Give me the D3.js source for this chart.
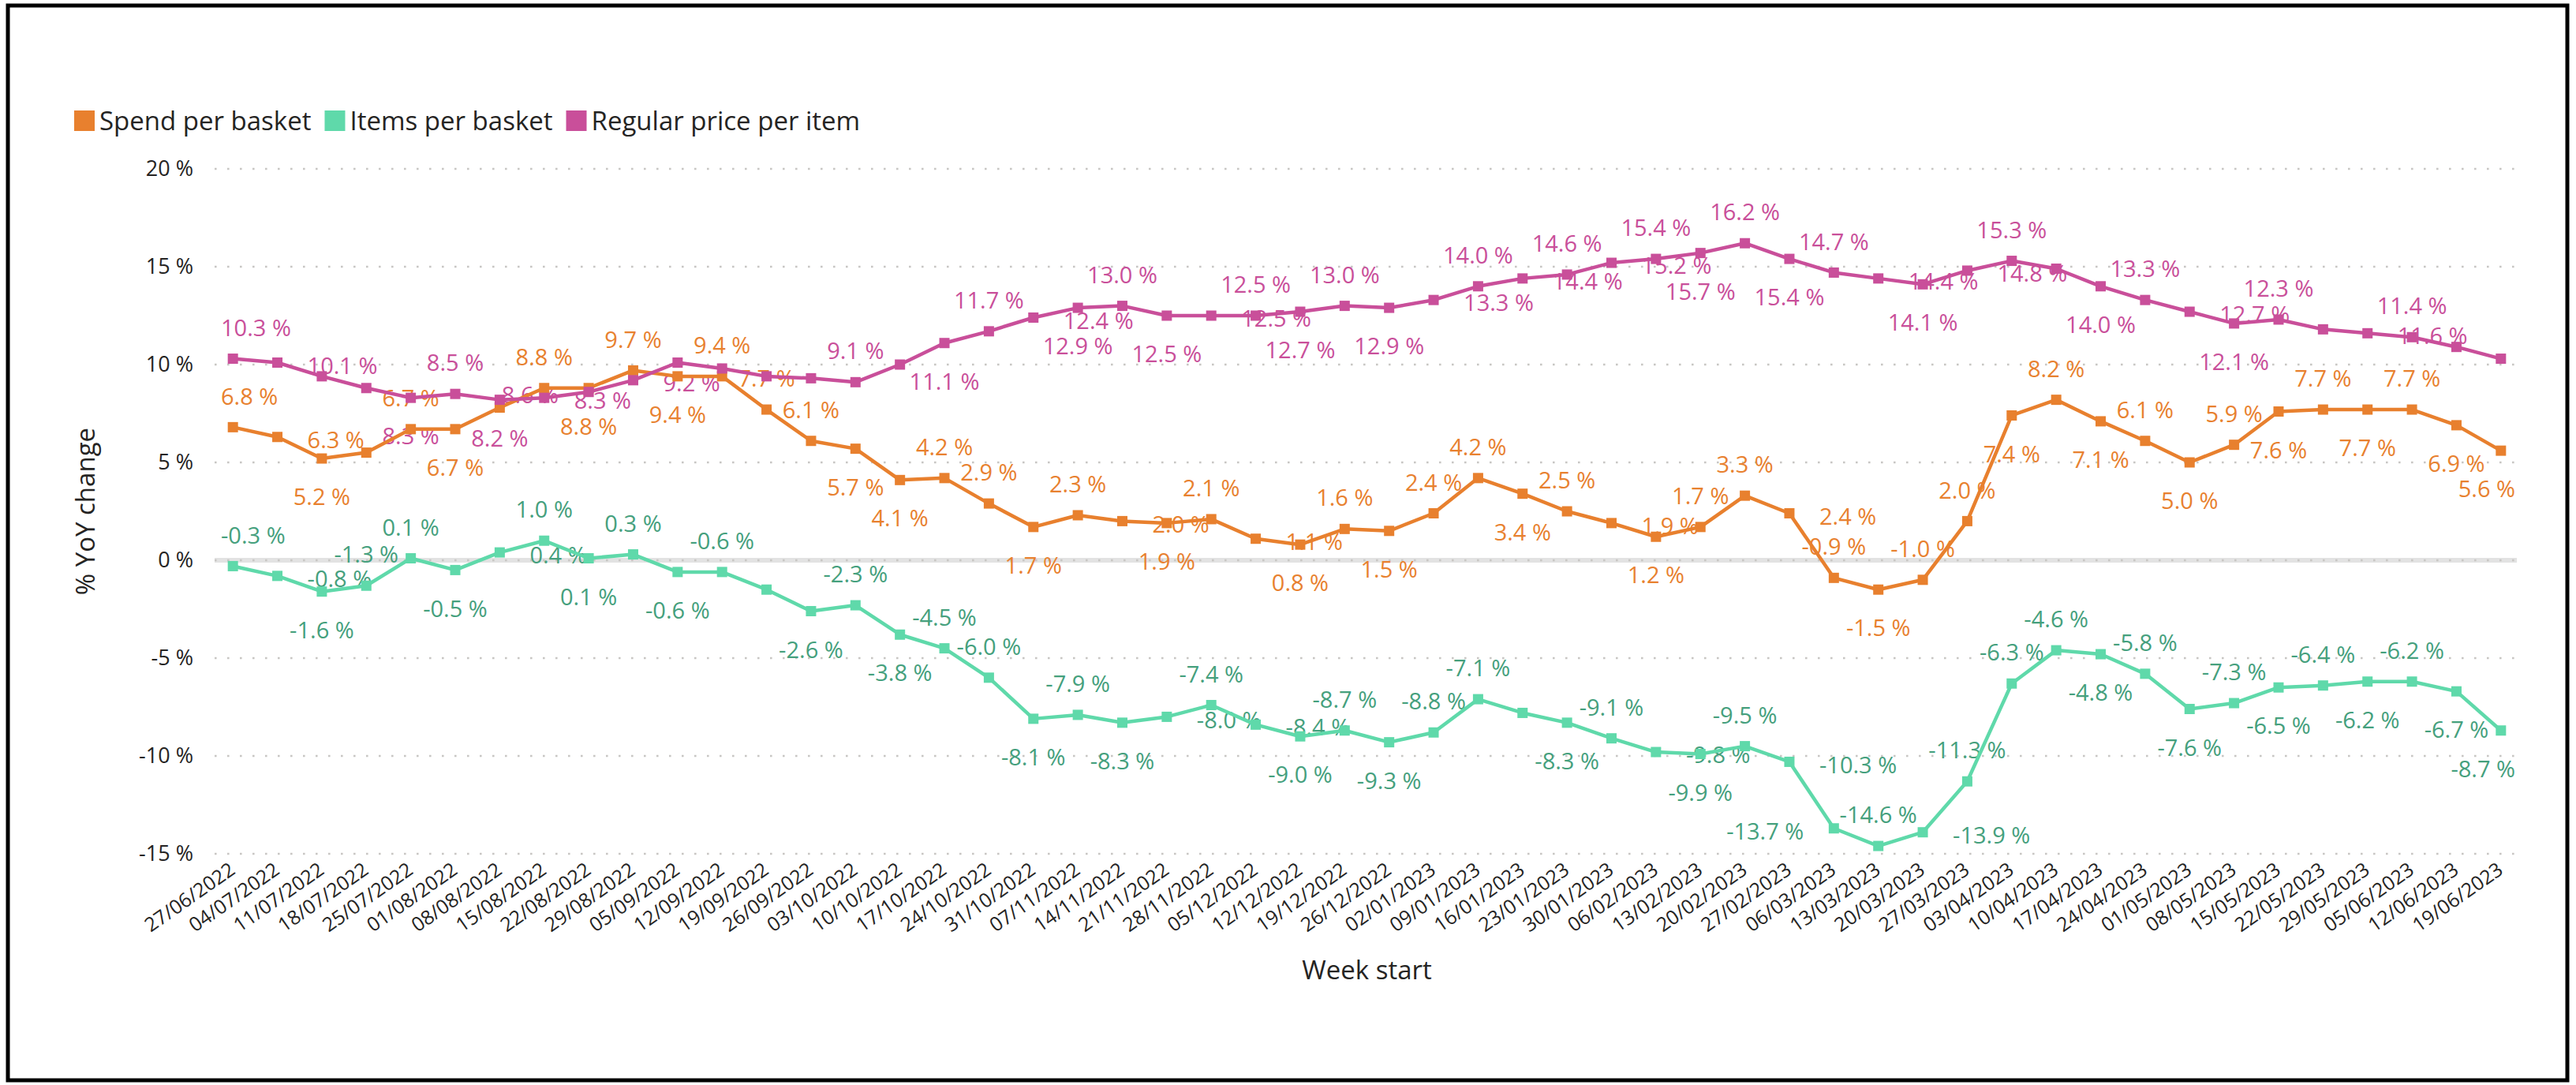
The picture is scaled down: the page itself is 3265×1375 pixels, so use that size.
<!DOCTYPE html>
<html>
<head>
<meta charset="utf-8">
<script src="https://cdn.jsdelivr.net/npm/d3@7"></script>
<style>
  body { margin: 0; background: #fff; }
  svg text { font-family: 'Segoe UI', 'Open Sans', sans-serif; }
</style>
</head>
<body>
<svg id="chart" width="3265" height="1375"></svg>
<script>
/* global d3 */
'use strict'

const weeks = [
  '27/06/2022', '04/07/2022', '11/07/2022', '18/07/2022', '25/07/2022', '01/08/2022',
  '08/08/2022', '15/08/2022', '22/08/2022', '29/08/2022', '05/09/2022', '12/09/2022',
  '19/09/2022', '26/09/2022', '03/10/2022', '10/10/2022', '17/10/2022', '24/10/2022',
  '31/10/2022', '07/11/2022', '14/11/2022', '21/11/2022', '28/11/2022', '05/12/2022',
  '12/12/2022', '19/12/2022', '26/12/2022', '02/01/2023', '09/01/2023', '16/01/2023',
  '23/01/2023', '30/01/2023', '06/02/2023', '13/02/2023', '20/02/2023', '27/02/2023',
  '06/03/2023', '13/03/2023', '20/03/2023', '27/03/2023', '03/04/2023', '10/04/2023',
  '17/04/2023', '24/04/2023', '01/05/2023', '08/05/2023', '15/05/2023', '22/05/2023',
  '29/05/2023', '05/06/2023', '12/06/2023', '19/06/2023'
]

const spendPerBasket = [
  6.8, 6.3, 5.2, 5.5, 6.7, 6.7, 7.8, 8.8, 8.8, 9.7, 9.4, 9.4, 7.7, 6.1, 5.7, 4.1, 4.2,
  2.9, 1.7, 2.3, 2.0, 1.9, 2.1, 1.1, 0.8, 1.6, 1.5, 2.4, 4.2, 3.4, 2.5, 1.9, 1.2, 1.7,
  3.3, 2.4, -0.9, -1.5, -1.0, 2.0, 7.4, 8.2, 7.1, 6.1, 5.0, 5.9, 7.6, 7.7, 7.7, 7.7, 6.9, 5.6
]

const itemsPerBasket = [
  -0.3, -0.8, -1.6, -1.3, 0.1, -0.5, 0.4, 1.0, 0.1, 0.3, -0.6, -0.6, -1.5, -2.6, -2.3,
  -3.8, -4.5, -6.0, -8.1, -7.9, -8.3, -8.0, -7.4, -8.4, -9.0, -8.7, -9.3, -8.8, -7.1,
  -7.8, -8.3, -9.1, -9.8, -9.9, -9.5, -10.3, -13.7, -14.6, -13.9, -11.3, -6.3, -4.6,
  -4.8, -5.8, -7.6, -7.3, -6.5, -6.4, -6.2, -6.2, -6.7, -8.7
]

const pricePerItem = [
  10.3, 10.1, 9.4, 8.8, 8.3, 8.5, 8.2, 8.3, 8.6, 9.2, 10.1, 9.8, 9.4, 9.3, 9.1, 10.0,
  11.1, 11.7, 12.4, 12.9, 13.0, 12.5, 12.5, 12.5, 12.7, 13.0, 12.9, 13.3, 14.0, 14.4,
  14.6, 15.2, 15.4, 15.7, 16.2, 15.4, 14.7, 14.4, 14.1, 14.8, 15.3, 14.9, 14.0, 13.3,
  12.7, 12.1, 12.3, 11.8, 11.6, 11.4, 10.9, 10.3
]

const seriesNames = ['Spend per basket', 'Items per basket', 'Regular price per item']
const yTicks = [-15, -10, -5, 0, 5, 10, 15, 20]

// where each data label sits: A above, B below, R right, L left, - not shown
const spendSpots = 'ARB-AB-ABABAAABBAABARBARBABAABARBAARABAABABABABABABB'
const itemsSpots = 'ARBAABRABABA-BABAABABRARBABAA-BARBARLARAAABABABABABB'
const priceSpots = 'AR--BABRLR----A-BARBABRABABRARARABABARBRA-BARBA-RA--'

const width = 3265
const height = 1375
const plotLeft = 267
const plotRight = 3198
const svg = d3.select('#chart')

const series = [
  { name: seriesNames[0], values: spendPerBasket, spots: spendSpots, color: '#E8802E', label: '#E8812F' },
  { name: seriesNames[1], values: itemsPerBasket, spots: itemsSpots, color: '#5FD9AA', label: '#45A07D' },
  { name: seriesNames[2], values: pricePerItem, spots: priceSpots, color: '#C94F9A', label: '#C94F9A' }
]

const x = d3.scalePoint().domain(weeks).range([plotLeft, plotRight]).padding(0.5)
const y = d3.scaleLinear().domain([-15, 20]).range([1082, 214])

// frame
svg.append('rect')
  .attr('x', 10).attr('y', 7)
  .attr('width', width - 21).attr('height', height - 13)
  .attr('fill', 'none').attr('stroke', '#000').attr('stroke-width', 5)

// zero band, then dotted grid
svg.append('line')
  .attr('x1', 272).attr('x2', 3190)
  .attr('y1', y(0)).attr('y2', y(0))
  .attr('stroke', '#E2E2E2').attr('stroke-width', 6)

svg.append('g').selectAll('line')
  .data(yTicks)
  .join('line')
  .attr('x1', 272).attr('x2', 3190)
  .attr('y1', d => y(d)).attr('y2', d => y(d))
  .attr('stroke', '#C8C6C4')
  .attr('stroke-width', 2.6)
  .attr('stroke-dasharray', '2.6 13.4')

// y axis
const yAxis = svg.append('g')
  .attr('transform', `translate(272,0)`)
  .call(d3.axisLeft(y).tickValues(yTicks).tickSize(0).tickPadding(27).tickFormat(d => d + ' %'))
yAxis.select('.domain').remove()
yAxis.selectAll('text')
  .attr('font-size', 27)
  .attr('fill', '#252423')
  .style('font-family', "'Segoe UI', 'Open Sans', sans-serif")

// x axis, rotated labels
const xAxis = svg.append('g')
  .attr('transform', `translate(0,${y(-15)})`)
  .call(d3.axisBottom(x).tickSize(0))
xAxis.select('.domain').remove()
xAxis.selectAll('text')
  .attr('x', 0).attr('y', 0).attr('dy', 0)
  .attr('text-anchor', 'end')
  .attr('transform', 'translate(4,24) rotate(-35)')
  .attr('font-size', 25)
  .attr('fill', '#252423')
  .style('font-family', "'Segoe UI', 'Open Sans', sans-serif")

// axis titles
svg.append('text')
  .attr('transform', 'translate(107,648) rotate(-90)')
  .attr('text-anchor', 'middle')
  .attr('dominant-baseline', 'central')
  .attr('font-size', 33)
  .attr('fill', '#252423')
  .text('% YoY change')

svg.append('text')
  .attr('x', (plotLeft + plotRight) / 2)
  .attr('y', 1228)
  .attr('text-anchor', 'middle')
  .attr('dominant-baseline', 'central')
  .attr('font-size', 33)
  .attr('fill', '#252423')
  .text('Week start')

// legend
let cursor = 94
series.forEach(s => {
  svg.append('rect')
    .attr('x', cursor).attr('y', 140)
    .attr('width', 26).attr('height', 26)
    .attr('fill', s.color)
  const t = svg.append('text')
    .attr('x', cursor + 32).attr('y', 165)
    .attr('font-size', 33)
    .attr('fill', '#252423')
    .text(s.name)
  cursor += 32 + t.node().getComputedTextLength() + 17
})

// data labels (drawn under the lines, as in the original)
const fmt = v => (v < 0 ? '-' : '') + Math.abs(v).toFixed(1) + ' %'
const labelSize = 29
const labelLayer = svg.append('g')

series.forEach(s => {
  s.values.forEach((v, i) => {
    const spot = s.spots[i]
    if (spot === '-') return
    const px = x(weeks[i])
    const py = y(v)
    let lx = px
    let ly = py
    let anchor = 'middle'
    if (spot === 'A') ly = py - 39
    if (spot === 'B') ly = py + 49
    if (spot === 'R') { lx = px + 38; ly = py + 4; anchor = 'start' }
    if (spot === 'L') { lx = px - 38; ly = py + 4; anchor = 'end' }
    const t = labelLayer.append('text')
      .attr('x', lx)
      .attr('y', ly + labelSize * 0.35)
      .attr('text-anchor', anchor)
      .attr('font-size', labelSize)
      .attr('fill', s.label)
      .text(fmt(v))
    // keep labels inside the plot
    const box = t.node().getBBox()
    if (box.x + box.width > 3188) t.attr('x', lx - (box.x + box.width - 3188))
    if (box.x < 280) t.attr('x', lx + (280 - box.x))
  })
})

// lines and markers
const line = d3.line()
  .x((d, i) => x(weeks[i]))
  .y(d => y(d))

series.forEach(s => {
  const g = svg.append('g')
  g.append('path')
    .datum(s.values)
    .attr('d', line)
    .attr('fill', 'none')
    .attr('stroke', s.color)
    .attr('stroke-width', 4.5)
    .attr('stroke-linejoin', 'round')
  g.selectAll('rect')
    .data(s.values)
    .join('rect')
    .attr('x', (d, i) => x(weeks[i]) - 6.5)
    .attr('y', d => y(d) - 6.5)
    .attr('width', 13)
    .attr('height', 13)
    .attr('fill', s.color)
})
</script>
</body>
</html>
